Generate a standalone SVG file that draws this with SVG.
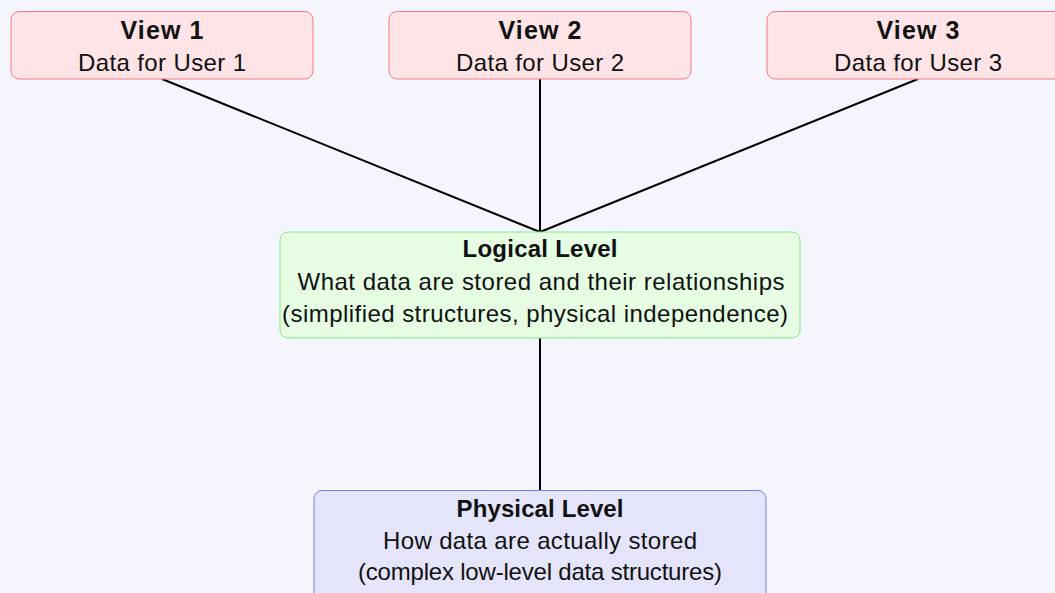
<svg xmlns="http://www.w3.org/2000/svg" width="1055" height="593" viewBox="0 0 1055 593">
  <style>
    text { font-family: "Liberation Sans", Arial, sans-serif; font-size: 24px; fill: #111; text-anchor: middle; }
    .title { font-weight: bold; }
    .vtitle { font-size: 25px; }
    .view { fill: #fee4e6; stroke: #f77a7e; stroke-width: 1; }
    .logical { fill: #e6fde4; stroke: #82ea82; stroke-width: 1; }
    .physical { fill: #e4e4fa; stroke: #7a7af4; stroke-width: 1; }
    .link { stroke: #000; stroke-width: 2; fill: none; }
  </style>
  <rect width="1055" height="593" fill="#f5f5fd"/>

  <!-- connectors between levels -->
  <g id="connectors">
    <line class="link" x1="162" y1="79" x2="540" y2="232"/>
    <line class="link" x1="540" y1="79" x2="540" y2="232"/>
    <line class="link" x1="918" y1="79" x2="540" y2="232"/>
    <line class="link" x1="540" y1="338" x2="540" y2="490"/>
  </g>

  <g id="view1">
    <rect class="view" x="11" y="11.5" width="302" height="67.5" rx="8"/>
    <text class="title vtitle" x="162" y="38.5" textLength="83">View 1</text>
    <text x="162" y="71" textLength="168">Data for User 1</text>
  </g>

  <g id="view2">
    <rect class="view" x="389" y="11.5" width="302" height="67.5" rx="8"/>
    <text class="title vtitle" x="540" y="38.5" textLength="83">View 2</text>
    <text x="540" y="71" textLength="168">Data for User 2</text>
  </g>

  <g id="view3">
    <rect class="view" x="767" y="11.5" width="302" height="67.5" rx="8"/>
    <text class="title vtitle" x="918" y="38.5" textLength="83">View 3</text>
    <text x="918" y="71" textLength="168">Data for User 3</text>
  </g>

  <g id="logical">
    <rect class="logical" x="280" y="232" width="520" height="106" rx="8"/>
    <text class="title" x="540" y="257" textLength="155">Logical Level</text>
    <text x="541" y="290" textLength="487">What data are stored and their relationships</text>
    <text x="535" y="322" textLength="506">(simplified structures, physical independence)</text>
  </g>

  <g id="physical">
    <rect class="physical" x="314" y="490.5" width="452" height="110" rx="8"/>
    <text class="title" x="540" y="517" textLength="167">Physical Level</text>
    <text x="540" y="548.5" textLength="314">How data are actually stored</text>
    <text x="540" y="580" textLength="364">(complex low-level data structures)</text>
  </g>
</svg>
